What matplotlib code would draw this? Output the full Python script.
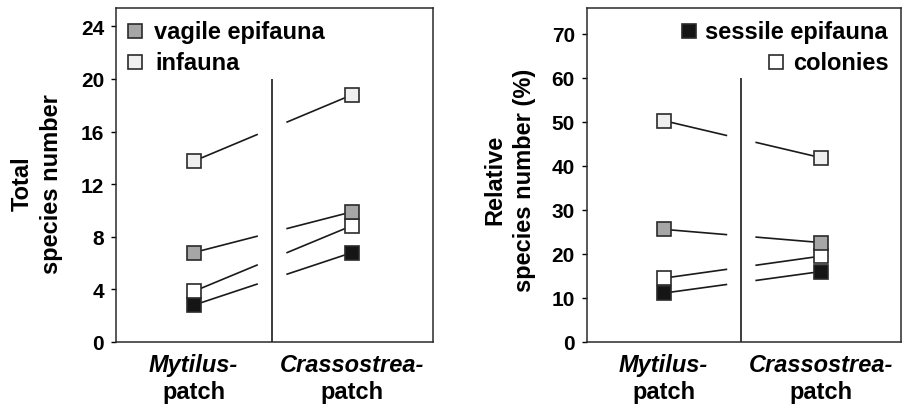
import numpy as np
import matplotlib.pyplot as plt
import matplotlib.transforms as mtransforms

plt.rcParams['font.family'] = ['Liberation Sans', 'DejaVu Sans']
plt.rcParams['font.weight'] = 'bold'

# data
patches = ['Mytilus-', 'Crassostrea-']
groups = ['infauna', 'vagile epifauna', 'colonies', 'sessile epifauna']
colors = ['#efefef', '#a6a6a6', '#ffffff', '#151515']

total_species = [[13.75, 18.8], [6.8, 9.9], [3.85, 8.85], [2.8, 6.8]]
relative_species = [[50.3, 41.9], [25.6, 22.6], [14.5, 19.5], [11.1, 16.0]]

left_ticks = [0, 4, 8, 12, 16, 20, 24]
right_ticks = [0, 10, 20, 30, 40, 50, 60, 70]

x_pos = np.array([0, 1])
gap = (0.40, 0.59)
divider_x = 0.495
fs = 17

fig = plt.figure(figsize=(9.09, 4.06), dpi=100)
ax1 = fig.add_axes([0.1276, 0.1552, 0.3487, 0.8227])
ax2 = fig.add_axes([0.6454, 0.1552, 0.3454, 0.8227])


def draw_panel(ax, values, ylim, yticks, divider_top):
    for vals in values:
        # line broken around the divider
        xa = np.array([x_pos[0], gap[0]])
        xb = np.array([gap[1], x_pos[1]])
        ax.plot(xa, np.interp(xa, x_pos, vals), color='#1a1a1a', lw=1.2, zorder=2)
        ax.plot(xb, np.interp(xb, x_pos, vals), color='#1a1a1a', lw=1.2, zorder=2)
    for vals, col in zip(values[::-1], colors[::-1]):
        ax.plot(x_pos, vals, ls='none', marker='s', ms=10.5, mfc=col,
                mec='#2a2a2a', mew=1.2, zorder=3)
    ax.vlines(divider_x, 0, divider_top, color='#1a1a1a', lw=1.2, zorder=1)
    ax.set_xlim(-0.49, 1.51)
    ax.set_ylim(*ylim)
    ax.set_yticks(yticks)
    ax.set_xticks([])
    ax.tick_params(axis='y', direction='out', length=3.5, width=1, labelsize=15, pad=5)
    for s in ax.spines.values():
        s.set_linewidth(1.1)
        s.set_color('#2a2a2a')
    trans = mtransforms.blended_transform_factory(ax.transData, ax.transAxes)
    for xp, name in zip(x_pos, patches):
        ax.text(xp, -0.066, name, transform=trans, ha='center', va='center',
                fontsize=fs, fontstyle='italic', fontweight='bold')
        ax.text(xp, -0.147, 'patch', transform=trans, ha='center', va='center',
                fontsize=fs, fontweight='bold')


draw_panel(ax1, total_species, (0, 25.4), left_ticks, 20)
draw_panel(ax2, relative_species, (0, 75.9), right_ticks, 60)

ax1.text(-0.25, 0.476, 'Total\nspecies number', transform=ax1.transAxes, rotation=90,
         ha='center', va='center', fontsize=fs, fontweight='bold', linespacing=1.35)
ax2.text(-0.245, 0.488, 'Relative\nspecies number (%)', transform=ax2.transAxes, rotation=90,
         ha='center', va='center', fontsize=fs, fontweight='bold', linespacing=1.35)

# legends
for ax, items in [(ax1, [(0.06, 0.931, 0.12, 'left', 1), (0.06, 0.838, 0.125, 'left', 0)]),
                  (ax2, [(0.326, 0.931, 0.957, 'right', 3), (0.603, 0.838, 0.962, 'right', 2)])]:
    for mx, my, tx, ha, gi in items:
        ax.plot(mx, my, marker='s', ms=10.5, mfc=colors[gi], mec='#2a2a2a', mew=1.2,
                transform=ax.transAxes, clip_on=False)
        ax.text(tx, my, groups[gi], transform=ax.transAxes, ha=ha, va='center',
                fontsize=fs, fontweight='bold')

fig.savefig('out.png', dpi=100)
